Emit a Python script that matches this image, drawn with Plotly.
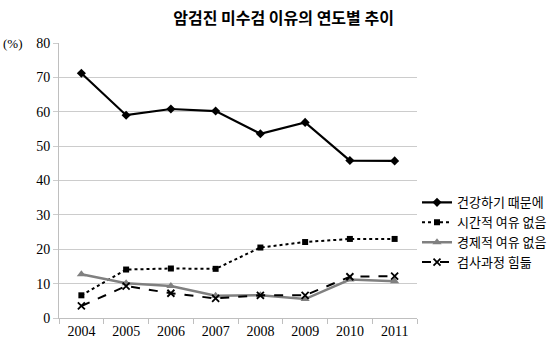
import plotly.graph_objects as go

years = ["2004", "2005", "2006", "2007", "2008", "2009", "2010", "2011"]
health = [71.2, 59.0, 60.8, 60.2, 53.6, 56.9, 45.8, 45.7]
no_time = [6.6, 14.1, 14.4, 14.3, 20.5, 22.1, 23.0, 23.0]
no_money = [12.7, 10.1, 9.3, 6.5, 6.6, 5.5, 11.2, 10.7]
hard_exam = [3.5, 9.3, 7.2, 5.7, 6.6, 6.6, 12.0, 12.2]

series_names = ["건강하기 때문에", "시간적 여유 없음", "경제적 여유 없음", "검사과정 힘듦"]

fig = go.Figure()
fig.add_trace(go.Scatter(
    x=years, y=health, name=series_names[0], mode="lines+markers",
    line=dict(color="#000000", width=2.2),
    marker=dict(symbol="diamond", size=7, color="#000000"),
))
fig.add_trace(go.Scatter(
    x=years, y=no_time, name=series_names[1], mode="lines+markers",
    line=dict(color="#000000", width=2, dash="dot"),
    marker=dict(symbol="square", size=6, color="#000000"),
))
fig.add_trace(go.Scatter(
    x=years, y=no_money, name=series_names[2], mode="lines+markers",
    line=dict(color="#808080", width=2.5),
    marker=dict(symbol="triangle-up", size=8, color="#808080"),
))
fig.add_trace(go.Scatter(
    x=years, y=hard_exam, name=series_names[3], mode="lines+markers",
    line=dict(color="#000000", width=2, dash="dash"),
    marker=dict(symbol="x-thin", size=7, color="#000000",
                line=dict(color="#000000", width=1.8)),
))

serif = "Liberation Serif, Times New Roman, serif"
korean = "Noto Sans CJK KR, sans-serif"

fig.update_layout(
    width=556, height=350,
    margin=dict(l=59, r=139, t=43, b=32, autoexpand=False),
    paper_bgcolor="white", plot_bgcolor="white",
    title=dict(text="<b>암검진 미수검 이유의 연도별 추이</b>",
               x=0.51, xanchor="center", y=0.947, yanchor="middle",
               font=dict(family=korean, size=16, color="#000000")),
    font=dict(family=serif, size=14, color="#000000"),
    showlegend=True,
    legend=dict(x=1.0, xanchor="left", y=0.475, yanchor="top",
                font=dict(family=korean, size=13, color="#000000"),
                itemwidth=30, tracegroupgap=0, bgcolor="rgba(0,0,0,0)"),
    xaxis=dict(type="category", showgrid=False, showline=True,
               linecolor="#bfbfbf", linewidth=1,
               ticks="outside", tickson="boundaries", ticklen=5,
               tickcolor="#bfbfbf", tickfont=dict(family=serif, size=14),
               range=[-0.5, 7.5]),
    yaxis=dict(range=[0, 80], dtick=10, showgrid=True, gridcolor="#cccccc",
               gridwidth=1, showline=True, linecolor="#bfbfbf",
               ticks="outside", ticklen=5, tickcolor="#cccccc",
               zeroline=False, tickfont=dict(family=serif, size=14)),
    annotations=[dict(text="(%)", xref="paper", yref="paper",
                      x=-0.128, y=1.0, xanchor="center", yanchor="middle",
                      showarrow=False, font=dict(family=serif, size=13))],
)

fig.write_html("out.html")
